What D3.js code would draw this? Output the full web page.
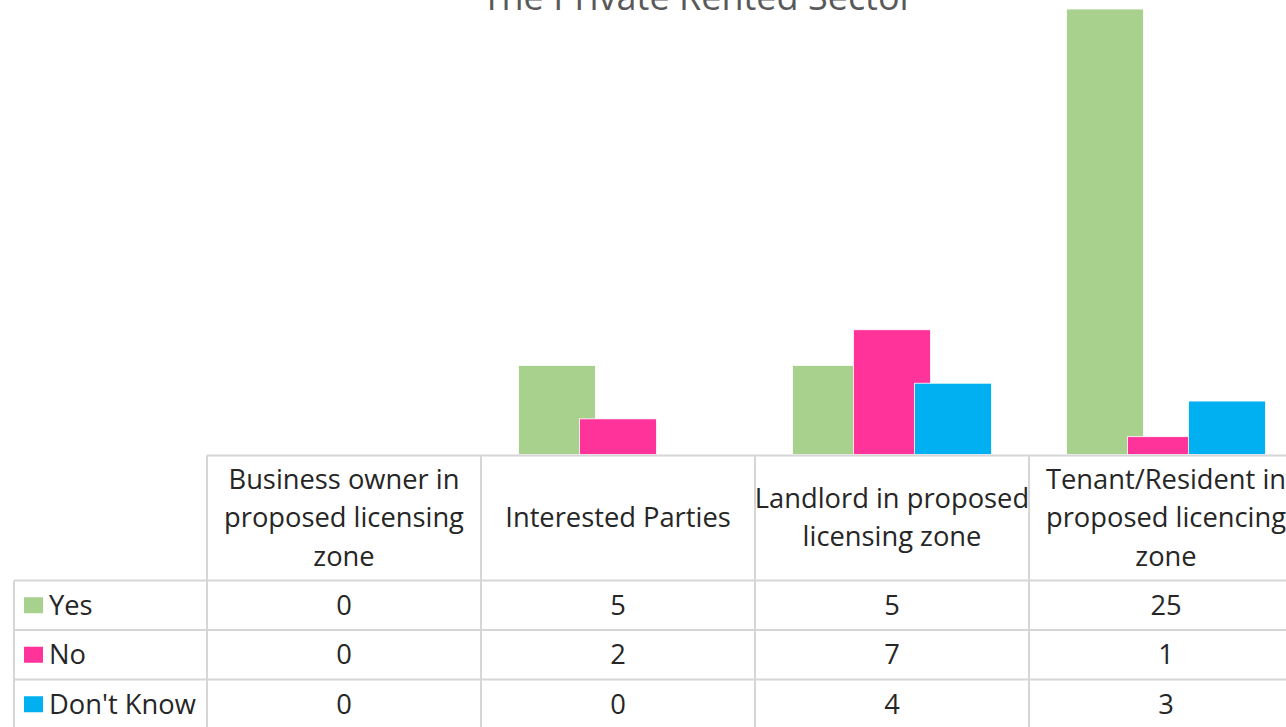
<!DOCTYPE html>
<html lang="en">
<head>
  <meta charset="UTF-8">
  <title>The Private Rented Sector</title>
  <style>
    html, body {
      margin: 0;
      padding: 0;
      background: #fff;
      overflow: hidden;
    }

    svg {
      display: block;
      font-family: 'Open Sans', sans-serif;
    }

    .grid {
      stroke: #d6d6d6;
      stroke-width: 2;
    }

    .cell-text {
      font-size: 27.3px;
      fill: #262626;
    }

    .title {
      font-size: 36px;
      fill: #595959;
    }
  </style>
</head>
<body>
  <div id="chart"></div>

  <script src="https://d3js.org/d3.v7.min.js"></script>
  <script>
    // categories (header lines as they wrap in the data table)
    const categories = ['Business owner', 'Interested Parties', 'Landlord', 'Tenant/Resident'];
    const headerLines = [
      ['Business owner in', 'proposed licensing', 'zone'],
      ['Interested Parties'],
      ['Landlord in proposed', 'licensing zone'],
      ['Tenant/Resident in', 'proposed licencing', 'zone']
    ];

    const seriesNames = ['Yes', 'No', "Don't Know"];
    const seriesColors = ['#a9d18e', '#ff3399', '#00b0f0'];

    const yesValues = [0, 5, 5, 25];
    const noValues = [0, 2, 7, 1];
    const dontKnowValues = [0, 0, 4, 3];
    const allValues = [yesValues, noValues, dontKnowValues];

    const width = 1286;
    const height = 727;

    const tableLeft = 14;
    const plotLeft = 207;
    const colWidth = 274;
    const baseY = 454.5;
    const headerBottom = 580.5;
    const rowHeight = 49.5;

    const svg = d3.select('#chart').append('svg')
      .attr('width', width)
      .attr('height', height);

    // title, mostly cut off at the top edge (as in the original)
    svg.append('text')
      .attr('class', 'title')
      .attr('x', 698)
      .attr('y', 10)
      .attr('text-anchor', 'middle')
      .text('The Private Rented Sector');

    const x = d3.scaleBand()
      .domain(categories)
      .range([plotLeft, plotLeft + colWidth * categories.length])
      .padding(0);

    // bars are wider than their spacing, so they overlap
    const barWidth = 77;
    const offset = d3.scalePoint()
      .domain(seriesNames)
      .range([-61, 61]);

    const y = d3.scaleLinear()
      .domain([0, 25])
      .range([baseY, 9]);

    seriesNames.forEach((name, s) => {
      svg.append('g')
        .selectAll('rect')
        .data(allValues[s])
        .join('rect')
        .attr('x', (d, i) => x(categories[i]) + x.bandwidth() / 2 + offset(name) - barWidth / 2)
        .attr('y', d => y(d))
        .attr('width', barWidth)
        .attr('height', d => baseY - y(d))
        .attr('fill', seriesColors[s])
        .attr('stroke', d => d > 0 ? '#fff' : 'none')
        .attr('stroke-width', 0.8);
    });

    // data table grid
    const grid = svg.append('g');
    const rightEdge = plotLeft + colWidth * categories.length;
    const tableBottom = headerBottom + rowHeight * seriesNames.length;

    grid.append('line').attr('class', 'grid')
      .attr('x1', plotLeft).attr('x2', rightEdge)
      .attr('y1', baseY + 1).attr('y2', baseY + 1);

    seriesNames.forEach((name, r) => {
      const yy = headerBottom + r * rowHeight;
      grid.append('line').attr('class', 'grid')
        .attr('x1', tableLeft).attr('x2', rightEdge)
        .attr('y1', yy).attr('y2', yy);
    });
    grid.append('line').attr('class', 'grid')
      .attr('x1', tableLeft).attr('x2', rightEdge)
      .attr('y1', tableBottom).attr('y2', tableBottom);

    grid.append('line').attr('class', 'grid')
      .attr('x1', tableLeft).attr('x2', tableLeft)
      .attr('y1', headerBottom).attr('y2', tableBottom);

    categories.concat(['end']).forEach((c, i) => {
      const xx = plotLeft + i * colWidth;
      grid.append('line').attr('class', 'grid')
        .attr('x1', xx).attr('x2', xx)
        .attr('y1', baseY + 1).attr('y2', tableBottom);
    });

    // header text
    const lineGap = 38.5;
    const headerMid = (baseY + headerBottom) / 2;
    categories.forEach((c, i) => {
      const lines = headerLines[i];
      const cx = x(c) + x.bandwidth() / 2;
      lines.forEach((ln, k) => {
        svg.append('text')
          .attr('class', 'cell-text')
          .attr('x', cx)
          .attr('y', headerMid + (k - (lines.length - 1) / 2) * lineGap + 9.5)
          .attr('text-anchor', 'middle')
          .text(ln);
      });
    });

    // rows: legend key, label, values
    seriesNames.forEach((name, r) => {
      const midY = headerBottom + r * rowHeight + rowHeight / 2;

      svg.append('rect')
        .attr('x', 24)
        .attr('y', midY - 8)
        .attr('width', 19)
        .attr('height', 16)
        .attr('fill', seriesColors[r]);

      svg.append('text')
        .attr('class', 'cell-text')
        .attr('x', 49)
        .attr('y', midY + 9.5)
        .text(name);

      svg.append('g')
        .selectAll('text')
        .data(allValues[r])
        .join('text')
        .attr('class', 'cell-text')
        .attr('x', (d, i) => x(categories[i]) + x.bandwidth() / 2)
        .attr('y', midY + 9.5)
        .attr('text-anchor', 'middle')
        .text(d => d);
    });
  </script>
</body>
</html>
